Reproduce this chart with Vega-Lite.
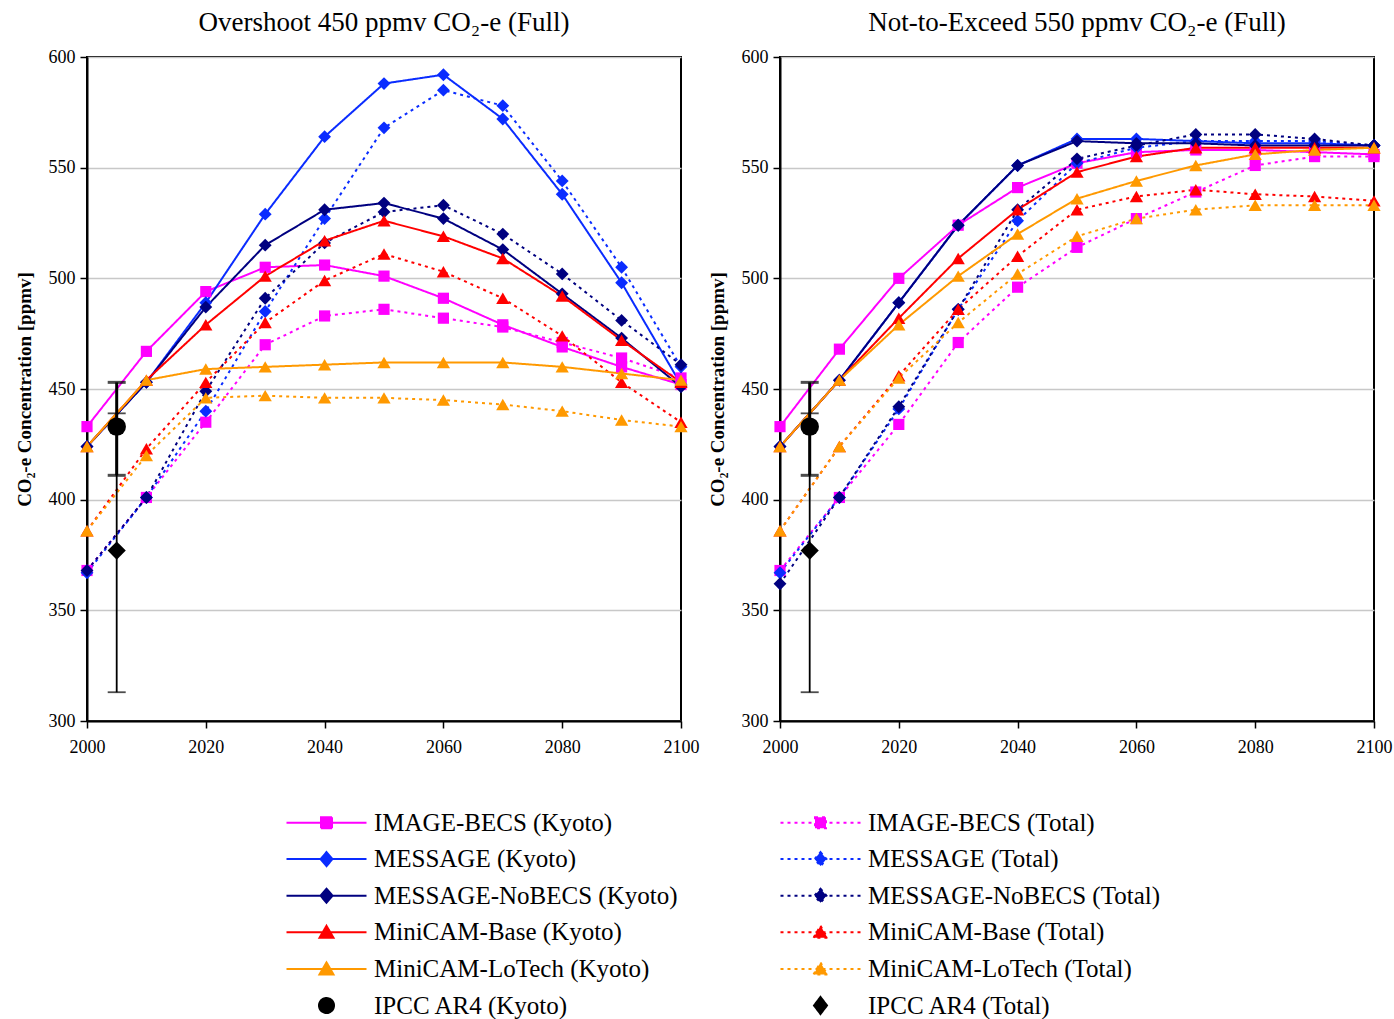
{
  "$schema": "https://vega.github.io/schema/vega-lite/v6.json",
  "background": "white",
  "padding": {"left": 14, "top": 8, "right": 0, "bottom": 0},
  "spacing": 7,
  "datasets": {
    "overshoot": [
      {"series": "IMAGE-BECS (Kyoto)", "year": 2000, "ppmv": 433}, {"series": "IMAGE-BECS (Kyoto)", "year": 2010, "ppmv": 467},
      {"series": "IMAGE-BECS (Kyoto)", "year": 2020, "ppmv": 494}, {"series": "IMAGE-BECS (Kyoto)", "year": 2030, "ppmv": 505},
      {"series": "IMAGE-BECS (Kyoto)", "year": 2040, "ppmv": 506}, {"series": "IMAGE-BECS (Kyoto)", "year": 2050, "ppmv": 501},
      {"series": "IMAGE-BECS (Kyoto)", "year": 2060, "ppmv": 491}, {"series": "IMAGE-BECS (Kyoto)", "year": 2070, "ppmv": 479},
      {"series": "IMAGE-BECS (Kyoto)", "year": 2080, "ppmv": 469}, {"series": "IMAGE-BECS (Kyoto)", "year": 2090, "ppmv": 460},
      {"series": "IMAGE-BECS (Kyoto)", "year": 2100, "ppmv": 452},
      {"series": "IMAGE-BECS (Total)", "year": 2000, "ppmv": 368}, {"series": "IMAGE-BECS (Total)", "year": 2010, "ppmv": 401},
      {"series": "IMAGE-BECS (Total)", "year": 2020, "ppmv": 435}, {"series": "IMAGE-BECS (Total)", "year": 2030, "ppmv": 470},
      {"series": "IMAGE-BECS (Total)", "year": 2040, "ppmv": 483}, {"series": "IMAGE-BECS (Total)", "year": 2050, "ppmv": 486},
      {"series": "IMAGE-BECS (Total)", "year": 2060, "ppmv": 482}, {"series": "IMAGE-BECS (Total)", "year": 2070, "ppmv": 478},
      {"series": "IMAGE-BECS (Total)", "year": 2080, "ppmv": 471}, {"series": "IMAGE-BECS (Total)", "year": 2090, "ppmv": 464},
      {"series": "IMAGE-BECS (Total)", "year": 2100, "ppmv": 455},
      {"series": "MESSAGE (Kyoto)", "year": 2000, "ppmv": 424}, {"series": "MESSAGE (Kyoto)", "year": 2010, "ppmv": 453},
      {"series": "MESSAGE (Kyoto)", "year": 2020, "ppmv": 489}, {"series": "MESSAGE (Kyoto)", "year": 2030, "ppmv": 529},
      {"series": "MESSAGE (Kyoto)", "year": 2040, "ppmv": 564}, {"series": "MESSAGE (Kyoto)", "year": 2050, "ppmv": 588},
      {"series": "MESSAGE (Kyoto)", "year": 2060, "ppmv": 592}, {"series": "MESSAGE (Kyoto)", "year": 2070, "ppmv": 572},
      {"series": "MESSAGE (Kyoto)", "year": 2080, "ppmv": 538}, {"series": "MESSAGE (Kyoto)", "year": 2090, "ppmv": 498},
      {"series": "MESSAGE (Kyoto)", "year": 2100, "ppmv": 452},
      {"series": "MESSAGE (Total)", "year": 2000, "ppmv": 367}, {"series": "MESSAGE (Total)", "year": 2010, "ppmv": 401},
      {"series": "MESSAGE (Total)", "year": 2020, "ppmv": 440}, {"series": "MESSAGE (Total)", "year": 2030, "ppmv": 485},
      {"series": "MESSAGE (Total)", "year": 2040, "ppmv": 527}, {"series": "MESSAGE (Total)", "year": 2050, "ppmv": 568},
      {"series": "MESSAGE (Total)", "year": 2060, "ppmv": 585}, {"series": "MESSAGE (Total)", "year": 2070, "ppmv": 578},
      {"series": "MESSAGE (Total)", "year": 2080, "ppmv": 544}, {"series": "MESSAGE (Total)", "year": 2090, "ppmv": 505},
      {"series": "MESSAGE (Total)", "year": 2100, "ppmv": 460},
      {"series": "MESSAGE-NoBECS (Kyoto)", "year": 2000, "ppmv": 424}, {"series": "MESSAGE-NoBECS (Kyoto)", "year": 2010, "ppmv": 453},
      {"series": "MESSAGE-NoBECS (Kyoto)", "year": 2020, "ppmv": 487}, {"series": "MESSAGE-NoBECS (Kyoto)", "year": 2030, "ppmv": 515},
      {"series": "MESSAGE-NoBECS (Kyoto)", "year": 2040, "ppmv": 531}, {"series": "MESSAGE-NoBECS (Kyoto)", "year": 2050, "ppmv": 534},
      {"series": "MESSAGE-NoBECS (Kyoto)", "year": 2060, "ppmv": 527}, {"series": "MESSAGE-NoBECS (Kyoto)", "year": 2070, "ppmv": 513},
      {"series": "MESSAGE-NoBECS (Kyoto)", "year": 2080, "ppmv": 493}, {"series": "MESSAGE-NoBECS (Kyoto)", "year": 2090, "ppmv": 473},
      {"series": "MESSAGE-NoBECS (Kyoto)", "year": 2100, "ppmv": 451},
      {"series": "MESSAGE-NoBECS (Total)", "year": 2000, "ppmv": 368}, {"series": "MESSAGE-NoBECS (Total)", "year": 2010, "ppmv": 401},
      {"series": "MESSAGE-NoBECS (Total)", "year": 2020, "ppmv": 449}, {"series": "MESSAGE-NoBECS (Total)", "year": 2030, "ppmv": 491},
      {"series": "MESSAGE-NoBECS (Total)", "year": 2040, "ppmv": 516}, {"series": "MESSAGE-NoBECS (Total)", "year": 2050, "ppmv": 530},
      {"series": "MESSAGE-NoBECS (Total)", "year": 2060, "ppmv": 533}, {"series": "MESSAGE-NoBECS (Total)", "year": 2070, "ppmv": 520},
      {"series": "MESSAGE-NoBECS (Total)", "year": 2080, "ppmv": 502}, {"series": "MESSAGE-NoBECS (Total)", "year": 2090, "ppmv": 481},
      {"series": "MESSAGE-NoBECS (Total)", "year": 2100, "ppmv": 461},
      {"series": "MiniCAM-Base (Kyoto)", "year": 2000, "ppmv": 424}, {"series": "MiniCAM-Base (Kyoto)", "year": 2010, "ppmv": 454},
      {"series": "MiniCAM-Base (Kyoto)", "year": 2020, "ppmv": 479}, {"series": "MiniCAM-Base (Kyoto)", "year": 2030, "ppmv": 501},
      {"series": "MiniCAM-Base (Kyoto)", "year": 2040, "ppmv": 517}, {"series": "MiniCAM-Base (Kyoto)", "year": 2050, "ppmv": 526},
      {"series": "MiniCAM-Base (Kyoto)", "year": 2060, "ppmv": 519}, {"series": "MiniCAM-Base (Kyoto)", "year": 2070, "ppmv": 509},
      {"series": "MiniCAM-Base (Kyoto)", "year": 2080, "ppmv": 492}, {"series": "MiniCAM-Base (Kyoto)", "year": 2090, "ppmv": 472},
      {"series": "MiniCAM-Base (Kyoto)", "year": 2100, "ppmv": 453},
      {"series": "MiniCAM-Base (Total)", "year": 2000, "ppmv": 386}, {"series": "MiniCAM-Base (Total)", "year": 2010, "ppmv": 423},
      {"series": "MiniCAM-Base (Total)", "year": 2020, "ppmv": 453}, {"series": "MiniCAM-Base (Total)", "year": 2030, "ppmv": 480},
      {"series": "MiniCAM-Base (Total)", "year": 2040, "ppmv": 499}, {"series": "MiniCAM-Base (Total)", "year": 2050, "ppmv": 511},
      {"series": "MiniCAM-Base (Total)", "year": 2060, "ppmv": 503}, {"series": "MiniCAM-Base (Total)", "year": 2070, "ppmv": 491},
      {"series": "MiniCAM-Base (Total)", "year": 2080, "ppmv": 474}, {"series": "MiniCAM-Base (Total)", "year": 2090, "ppmv": 453},
      {"series": "MiniCAM-Base (Total)", "year": 2100, "ppmv": 435},
      {"series": "MiniCAM-LoTech (Kyoto)", "year": 2000, "ppmv": 424}, {"series": "MiniCAM-LoTech (Kyoto)", "year": 2010, "ppmv": 454},
      {"series": "MiniCAM-LoTech (Kyoto)", "year": 2020, "ppmv": 459}, {"series": "MiniCAM-LoTech (Kyoto)", "year": 2030, "ppmv": 460},
      {"series": "MiniCAM-LoTech (Kyoto)", "year": 2040, "ppmv": 461}, {"series": "MiniCAM-LoTech (Kyoto)", "year": 2050, "ppmv": 462},
      {"series": "MiniCAM-LoTech (Kyoto)", "year": 2060, "ppmv": 462}, {"series": "MiniCAM-LoTech (Kyoto)", "year": 2070, "ppmv": 462},
      {"series": "MiniCAM-LoTech (Kyoto)", "year": 2080, "ppmv": 460}, {"series": "MiniCAM-LoTech (Kyoto)", "year": 2090, "ppmv": 457},
      {"series": "MiniCAM-LoTech (Kyoto)", "year": 2100, "ppmv": 454},
      {"series": "MiniCAM-LoTech (Total)", "year": 2000, "ppmv": 386}, {"series": "MiniCAM-LoTech (Total)", "year": 2010, "ppmv": 420},
      {"series": "MiniCAM-LoTech (Total)", "year": 2020, "ppmv": 446}, {"series": "MiniCAM-LoTech (Total)", "year": 2030, "ppmv": 447},
      {"series": "MiniCAM-LoTech (Total)", "year": 2040, "ppmv": 446}, {"series": "MiniCAM-LoTech (Total)", "year": 2050, "ppmv": 446},
      {"series": "MiniCAM-LoTech (Total)", "year": 2060, "ppmv": 445}, {"series": "MiniCAM-LoTech (Total)", "year": 2070, "ppmv": 443},
      {"series": "MiniCAM-LoTech (Total)", "year": 2080, "ppmv": 440}, {"series": "MiniCAM-LoTech (Total)", "year": 2090, "ppmv": 436},
      {"series": "MiniCAM-LoTech (Total)", "year": 2100, "ppmv": 433},
      {"series": "IPCC AR4 (Kyoto)", "year": 2005, "ppmv": 433, "low": 411, "high": 453},
      {"series": "IPCC AR4 (Total)", "year": 2005, "ppmv": 377, "low": 313, "high": 439}
    ],
    "nte": [
      {"series": "IMAGE-BECS (Kyoto)", "year": 2000, "ppmv": 433}, {"series": "IMAGE-BECS (Kyoto)", "year": 2010, "ppmv": 468},
      {"series": "IMAGE-BECS (Kyoto)", "year": 2020, "ppmv": 500}, {"series": "IMAGE-BECS (Kyoto)", "year": 2030, "ppmv": 524},
      {"series": "IMAGE-BECS (Kyoto)", "year": 2040, "ppmv": 541}, {"series": "IMAGE-BECS (Kyoto)", "year": 2050, "ppmv": 552},
      {"series": "IMAGE-BECS (Kyoto)", "year": 2060, "ppmv": 557}, {"series": "IMAGE-BECS (Kyoto)", "year": 2070, "ppmv": 558},
      {"series": "IMAGE-BECS (Kyoto)", "year": 2080, "ppmv": 558}, {"series": "IMAGE-BECS (Kyoto)", "year": 2090, "ppmv": 557},
      {"series": "IMAGE-BECS (Kyoto)", "year": 2100, "ppmv": 556},
      {"series": "IMAGE-BECS (Total)", "year": 2000, "ppmv": 368}, {"series": "IMAGE-BECS (Total)", "year": 2010, "ppmv": 401},
      {"series": "IMAGE-BECS (Total)", "year": 2020, "ppmv": 434}, {"series": "IMAGE-BECS (Total)", "year": 2030, "ppmv": 471},
      {"series": "IMAGE-BECS (Total)", "year": 2040, "ppmv": 496}, {"series": "IMAGE-BECS (Total)", "year": 2050, "ppmv": 514},
      {"series": "IMAGE-BECS (Total)", "year": 2060, "ppmv": 527}, {"series": "IMAGE-BECS (Total)", "year": 2070, "ppmv": 539},
      {"series": "IMAGE-BECS (Total)", "year": 2080, "ppmv": 551}, {"series": "IMAGE-BECS (Total)", "year": 2090, "ppmv": 555},
      {"series": "IMAGE-BECS (Total)", "year": 2100, "ppmv": 555},
      {"series": "MESSAGE (Kyoto)", "year": 2000, "ppmv": 424}, {"series": "MESSAGE (Kyoto)", "year": 2010, "ppmv": 454},
      {"series": "MESSAGE (Kyoto)", "year": 2020, "ppmv": 489}, {"series": "MESSAGE (Kyoto)", "year": 2030, "ppmv": 524},
      {"series": "MESSAGE (Kyoto)", "year": 2040, "ppmv": 551}, {"series": "MESSAGE (Kyoto)", "year": 2050, "ppmv": 563},
      {"series": "MESSAGE (Kyoto)", "year": 2060, "ppmv": 563}, {"series": "MESSAGE (Kyoto)", "year": 2070, "ppmv": 562},
      {"series": "MESSAGE (Kyoto)", "year": 2080, "ppmv": 561}, {"series": "MESSAGE (Kyoto)", "year": 2090, "ppmv": 561},
      {"series": "MESSAGE (Kyoto)", "year": 2100, "ppmv": 560},
      {"series": "MESSAGE (Total)", "year": 2000, "ppmv": 367}, {"series": "MESSAGE (Total)", "year": 2010, "ppmv": 401},
      {"series": "MESSAGE (Total)", "year": 2020, "ppmv": 441}, {"series": "MESSAGE (Total)", "year": 2030, "ppmv": 486},
      {"series": "MESSAGE (Total)", "year": 2040, "ppmv": 526}, {"series": "MESSAGE (Total)", "year": 2050, "ppmv": 552},
      {"series": "MESSAGE (Total)", "year": 2060, "ppmv": 559}, {"series": "MESSAGE (Total)", "year": 2070, "ppmv": 562},
      {"series": "MESSAGE (Total)", "year": 2080, "ppmv": 562}, {"series": "MESSAGE (Total)", "year": 2090, "ppmv": 562},
      {"series": "MESSAGE (Total)", "year": 2100, "ppmv": 560},
      {"series": "MESSAGE-NoBECS (Kyoto)", "year": 2000, "ppmv": 424}, {"series": "MESSAGE-NoBECS (Kyoto)", "year": 2010, "ppmv": 454},
      {"series": "MESSAGE-NoBECS (Kyoto)", "year": 2020, "ppmv": 489}, {"series": "MESSAGE-NoBECS (Kyoto)", "year": 2030, "ppmv": 524},
      {"series": "MESSAGE-NoBECS (Kyoto)", "year": 2040, "ppmv": 551}, {"series": "MESSAGE-NoBECS (Kyoto)", "year": 2050, "ppmv": 562},
      {"series": "MESSAGE-NoBECS (Kyoto)", "year": 2060, "ppmv": 561}, {"series": "MESSAGE-NoBECS (Kyoto)", "year": 2070, "ppmv": 561},
      {"series": "MESSAGE-NoBECS (Kyoto)", "year": 2080, "ppmv": 560}, {"series": "MESSAGE-NoBECS (Kyoto)", "year": 2090, "ppmv": 560},
      {"series": "MESSAGE-NoBECS (Kyoto)", "year": 2100, "ppmv": 560},
      {"series": "MESSAGE-NoBECS (Total)", "year": 2000, "ppmv": 362}, {"series": "MESSAGE-NoBECS (Total)", "year": 2010, "ppmv": 401},
      {"series": "MESSAGE-NoBECS (Total)", "year": 2020, "ppmv": 442}, {"series": "MESSAGE-NoBECS (Total)", "year": 2030, "ppmv": 486},
      {"series": "MESSAGE-NoBECS (Total)", "year": 2040, "ppmv": 531}, {"series": "MESSAGE-NoBECS (Total)", "year": 2050, "ppmv": 554},
      {"series": "MESSAGE-NoBECS (Total)", "year": 2060, "ppmv": 560}, {"series": "MESSAGE-NoBECS (Total)", "year": 2070, "ppmv": 565},
      {"series": "MESSAGE-NoBECS (Total)", "year": 2080, "ppmv": 565}, {"series": "MESSAGE-NoBECS (Total)", "year": 2090, "ppmv": 563},
      {"series": "MESSAGE-NoBECS (Total)", "year": 2100, "ppmv": 560},
      {"series": "MiniCAM-Base (Kyoto)", "year": 2000, "ppmv": 424}, {"series": "MiniCAM-Base (Kyoto)", "year": 2010, "ppmv": 454},
      {"series": "MiniCAM-Base (Kyoto)", "year": 2020, "ppmv": 482}, {"series": "MiniCAM-Base (Kyoto)", "year": 2030, "ppmv": 509},
      {"series": "MiniCAM-Base (Kyoto)", "year": 2040, "ppmv": 531}, {"series": "MiniCAM-Base (Kyoto)", "year": 2050, "ppmv": 548},
      {"series": "MiniCAM-Base (Kyoto)", "year": 2060, "ppmv": 555}, {"series": "MiniCAM-Base (Kyoto)", "year": 2070, "ppmv": 559},
      {"series": "MiniCAM-Base (Kyoto)", "year": 2080, "ppmv": 559}, {"series": "MiniCAM-Base (Kyoto)", "year": 2090, "ppmv": 559},
      {"series": "MiniCAM-Base (Kyoto)", "year": 2100, "ppmv": 559},
      {"series": "MiniCAM-Base (Total)", "year": 2000, "ppmv": 386}, {"series": "MiniCAM-Base (Total)", "year": 2010, "ppmv": 424},
      {"series": "MiniCAM-Base (Total)", "year": 2020, "ppmv": 456}, {"series": "MiniCAM-Base (Total)", "year": 2030, "ppmv": 486},
      {"series": "MiniCAM-Base (Total)", "year": 2040, "ppmv": 510}, {"series": "MiniCAM-Base (Total)", "year": 2050, "ppmv": 531},
      {"series": "MiniCAM-Base (Total)", "year": 2060, "ppmv": 537}, {"series": "MiniCAM-Base (Total)", "year": 2070, "ppmv": 540},
      {"series": "MiniCAM-Base (Total)", "year": 2080, "ppmv": 538}, {"series": "MiniCAM-Base (Total)", "year": 2090, "ppmv": 537},
      {"series": "MiniCAM-Base (Total)", "year": 2100, "ppmv": 535},
      {"series": "MiniCAM-LoTech (Kyoto)", "year": 2000, "ppmv": 424}, {"series": "MiniCAM-LoTech (Kyoto)", "year": 2010, "ppmv": 454},
      {"series": "MiniCAM-LoTech (Kyoto)", "year": 2020, "ppmv": 479}, {"series": "MiniCAM-LoTech (Kyoto)", "year": 2030, "ppmv": 501},
      {"series": "MiniCAM-LoTech (Kyoto)", "year": 2040, "ppmv": 520}, {"series": "MiniCAM-LoTech (Kyoto)", "year": 2050, "ppmv": 536},
      {"series": "MiniCAM-LoTech (Kyoto)", "year": 2060, "ppmv": 544}, {"series": "MiniCAM-LoTech (Kyoto)", "year": 2070, "ppmv": 551},
      {"series": "MiniCAM-LoTech (Kyoto)", "year": 2080, "ppmv": 556}, {"series": "MiniCAM-LoTech (Kyoto)", "year": 2090, "ppmv": 558},
      {"series": "MiniCAM-LoTech (Kyoto)", "year": 2100, "ppmv": 559},
      {"series": "MiniCAM-LoTech (Total)", "year": 2000, "ppmv": 386}, {"series": "MiniCAM-LoTech (Total)", "year": 2010, "ppmv": 424},
      {"series": "MiniCAM-LoTech (Total)", "year": 2020, "ppmv": 455}, {"series": "MiniCAM-LoTech (Total)", "year": 2030, "ppmv": 480},
      {"series": "MiniCAM-LoTech (Total)", "year": 2040, "ppmv": 502}, {"series": "MiniCAM-LoTech (Total)", "year": 2050, "ppmv": 519},
      {"series": "MiniCAM-LoTech (Total)", "year": 2060, "ppmv": 527}, {"series": "MiniCAM-LoTech (Total)", "year": 2070, "ppmv": 531},
      {"series": "MiniCAM-LoTech (Total)", "year": 2080, "ppmv": 533}, {"series": "MiniCAM-LoTech (Total)", "year": 2090, "ppmv": 533},
      {"series": "MiniCAM-LoTech (Total)", "year": 2100, "ppmv": 533},
      {"series": "IPCC AR4 (Kyoto)", "year": 2005, "ppmv": 433, "low": 411, "high": 453},
      {"series": "IPCC AR4 (Total)", "year": 2005, "ppmv": 377, "low": 313, "high": 439}
    ]
  },
  "resolve": {
    "scale": {"fill": "shared", "stroke": "shared", "shape": "shared", "strokeDash": "shared"},
    "legend": {"fill": "shared", "stroke": "shared", "shape": "shared", "strokeDash": "shared"}
  },
  "hconcat": [
    {
      "width": 594,
      "height": 664,
      "title": {"text": "Overshoot 450 ppmv CO₂-e (Full)"},
      "data": {"name": "overshoot"},
      "encoding": {
        "x": {"field": "year", "type": "quantitative", "scale": {"domain": [2000, 2100], "nice": false, "zero": false},
              "axis": {"values": [2000, 2020, 2040, 2060, 2080, 2100], "title": null, "format": "d"}},
        "y": {"field": "ppmv", "type": "quantitative", "scale": {"domain": [300, 600], "nice": false, "zero": false},
              "axis": {"values": [300, 350, 400, 450, 500, 550, 600], "title": "CO₂-e Concentration [ppmv]"}}
      },
      "layer": [
        {
          "transform": [{"filter": "false"}],
          "mark": {"type": "point", "filled": true, "opacity": 1},
          "encoding": {
            "fill": {"field": "series", "type": "nominal", "legend": {"title": null, "orient": "none", "legendX": 227, "legendY": 753},
                     "scale": {"domain": ["IMAGE-BECS (Kyoto)", "MESSAGE (Kyoto)", "MESSAGE-NoBECS (Kyoto)", "MiniCAM-Base (Kyoto)", "MiniCAM-LoTech (Kyoto)", "IPCC AR4 (Kyoto)", "IMAGE-BECS (Total)", "MESSAGE (Total)", "MESSAGE-NoBECS (Total)", "MiniCAM-Base (Total)", "MiniCAM-LoTech (Total)", "IPCC AR4 (Total)"],
                               "range": ["#ff00ff", "#0a2cff", "#000080", "#ff0000", "#ff9900", "#000000", "#ff00ff", "#0a2cff", "#000080", "#ff0000", "#ff9900", "#000000"]}},
            "stroke": {"field": "series", "type": "nominal", "legend": {"title": null, "orient": "none", "legendX": 227, "legendY": 753},
                     "scale": {"domain": ["IMAGE-BECS (Kyoto)", "MESSAGE (Kyoto)", "MESSAGE-NoBECS (Kyoto)", "MiniCAM-Base (Kyoto)", "MiniCAM-LoTech (Kyoto)", "IPCC AR4 (Kyoto)", "IMAGE-BECS (Total)", "MESSAGE (Total)", "MESSAGE-NoBECS (Total)", "MiniCAM-Base (Total)", "MiniCAM-LoTech (Total)", "IPCC AR4 (Total)"],
                               "range": ["#ff00ff", "#0a2cff", "#000080", "#ff0000", "#ff9900", "#000000", "#ff00ff", "#0a2cff", "#000080", "#ff0000", "#ff9900", "#000000"]}},
            "shape": {"field": "series", "type": "nominal", "legend": {"title": null, "orient": "none", "legendX": 227, "legendY": 753},
                     "scale": {"domain": ["IMAGE-BECS (Kyoto)", "MESSAGE (Kyoto)", "MESSAGE-NoBECS (Kyoto)", "MiniCAM-Base (Kyoto)", "MiniCAM-LoTech (Kyoto)", "IPCC AR4 (Kyoto)", "IMAGE-BECS (Total)", "MESSAGE (Total)", "MESSAGE-NoBECS (Total)", "MiniCAM-Base (Total)", "MiniCAM-LoTech (Total)", "IPCC AR4 (Total)"],
                               "range": ["M-4,0H4M-0.55,-0.55H0.55V0.55H-0.55Z", "M-4,0H4M0,-0.7L0.6,0L0,0.7L-0.6,0Z",
                                         "M-4,0H4M0,-0.7L0.6,0L0,0.7L-0.6,0Z", "M-4,0H4M0,-0.65L0.7,0.55H-0.7Z",
                                         "M-4,0H4M0,-0.65L0.7,0.55H-0.7Z", "M-0.75,0A0.75,0.75,0,1,1,0.75,0A0.75,0.75,0,1,1,-0.75,0Z",
                                         "M-4,0H4M-0.55,-0.55H0.55V0.55H-0.55Z", "M-4,0H4M0,-0.7L0.6,0L0,0.7L-0.6,0Z",
                                         "M-4,0H4M0,-0.7L0.6,0L0,0.7L-0.6,0Z", "M-4,0H4M0,-0.65L0.7,0.55H-0.7Z",
                                         "M-4,0H4M0,-0.65L0.7,0.55H-0.7Z", "M0,-0.85L0.65,0L0,0.85L-0.65,0Z"]}},
            "strokeDash": {"field": "series", "type": "nominal", "legend": {"title": null, "orient": "none", "legendX": 227, "legendY": 753},
                     "scale": {"domain": ["IMAGE-BECS (Kyoto)", "MESSAGE (Kyoto)", "MESSAGE-NoBECS (Kyoto)", "MiniCAM-Base (Kyoto)", "MiniCAM-LoTech (Kyoto)", "IPCC AR4 (Kyoto)", "IMAGE-BECS (Total)", "MESSAGE (Total)", "MESSAGE-NoBECS (Total)", "MiniCAM-Base (Total)", "MiniCAM-LoTech (Total)", "IPCC AR4 (Total)"],
                               "range": [[1, 0], [1, 0], [1, 0], [1, 0], [1, 0], [1, 0], [3, 4], [3, 4], [3, 4], [3, 4], [3, 4], [1, 0]]}}
          }
        },
        {
          "transform": [{"filter": "indexof(datum.series, 'IPCC') < 0"}],
          "mark": {"type": "line", "strokeWidth": 2},
          "encoding": {
            "stroke": {"field": "series", "type": "nominal", "legend": {"title": null, "orient": "none", "legendX": 227, "legendY": 753},
                     "scale": {"domain": ["IMAGE-BECS (Kyoto)", "MESSAGE (Kyoto)", "MESSAGE-NoBECS (Kyoto)", "MiniCAM-Base (Kyoto)", "MiniCAM-LoTech (Kyoto)", "IPCC AR4 (Kyoto)", "IMAGE-BECS (Total)", "MESSAGE (Total)", "MESSAGE-NoBECS (Total)", "MiniCAM-Base (Total)", "MiniCAM-LoTech (Total)", "IPCC AR4 (Total)"],
                               "range": ["#ff00ff", "#0a2cff", "#000080", "#ff0000", "#ff9900", "#000000", "#ff00ff", "#0a2cff", "#000080", "#ff0000", "#ff9900", "#000000"]}},
            "strokeDash": {"field": "series", "type": "nominal", "legend": {"title": null, "orient": "none", "legendX": 227, "legendY": 753},
                     "scale": {"domain": ["IMAGE-BECS (Kyoto)", "MESSAGE (Kyoto)", "MESSAGE-NoBECS (Kyoto)", "MiniCAM-Base (Kyoto)", "MiniCAM-LoTech (Kyoto)", "IPCC AR4 (Kyoto)", "IMAGE-BECS (Total)", "MESSAGE (Total)", "MESSAGE-NoBECS (Total)", "MiniCAM-Base (Total)", "MiniCAM-LoTech (Total)", "IPCC AR4 (Total)"],
                               "range": [[1, 0], [1, 0], [1, 0], [1, 0], [1, 0], [1, 0], [3, 4], [3, 4], [3, 4], [3, 4], [3, 4], [1, 0]]}}
          }
        },
        {
          "transform": [{"filter": "indexof(datum.series, 'IMAGE') == 0"}],
          "mark": {"type": "point", "shape": "square", "size": 125, "filled": true, "opacity": 1},
          "encoding": {"fill": {"field": "series", "type": "nominal", "legend": {"title": null, "orient": "none", "legendX": 227, "legendY": 753},
                     "scale": {"domain": ["IMAGE-BECS (Kyoto)", "MESSAGE (Kyoto)", "MESSAGE-NoBECS (Kyoto)", "MiniCAM-Base (Kyoto)", "MiniCAM-LoTech (Kyoto)", "IPCC AR4 (Kyoto)", "IMAGE-BECS (Total)", "MESSAGE (Total)", "MESSAGE-NoBECS (Total)", "MiniCAM-Base (Total)", "MiniCAM-LoTech (Total)", "IPCC AR4 (Total)"],
                               "range": ["#ff00ff", "#0a2cff", "#000080", "#ff0000", "#ff9900", "#000000", "#ff00ff", "#0a2cff", "#000080", "#ff0000", "#ff9900", "#000000"]}}}
        },
        {
          "transform": [{"filter": "indexof(datum.series, 'MESSAGE') == 0"}],
          "mark": {"type": "point", "shape": "diamond", "size": 165, "filled": true, "opacity": 1},
          "encoding": {"fill": {"field": "series", "type": "nominal", "legend": {"title": null, "orient": "none", "legendX": 227, "legendY": 753},
                     "scale": {"domain": ["IMAGE-BECS (Kyoto)", "MESSAGE (Kyoto)", "MESSAGE-NoBECS (Kyoto)", "MiniCAM-Base (Kyoto)", "MiniCAM-LoTech (Kyoto)", "IPCC AR4 (Kyoto)", "IMAGE-BECS (Total)", "MESSAGE (Total)", "MESSAGE-NoBECS (Total)", "MiniCAM-Base (Total)", "MiniCAM-LoTech (Total)", "IPCC AR4 (Total)"],
                               "range": ["#ff00ff", "#0a2cff", "#000080", "#ff0000", "#ff9900", "#000000", "#ff00ff", "#0a2cff", "#000080", "#ff0000", "#ff9900", "#000000"]}}}
        },
        {
          "transform": [{"filter": "indexof(datum.series, 'MiniCAM') == 0"}],
          "mark": {"type": "point", "shape": "triangle-up", "size": 175, "filled": true, "opacity": 1},
          "encoding": {"fill": {"field": "series", "type": "nominal", "legend": {"title": null, "orient": "none", "legendX": 227, "legendY": 753},
                     "scale": {"domain": ["IMAGE-BECS (Kyoto)", "MESSAGE (Kyoto)", "MESSAGE-NoBECS (Kyoto)", "MiniCAM-Base (Kyoto)", "MiniCAM-LoTech (Kyoto)", "IPCC AR4 (Kyoto)", "IMAGE-BECS (Total)", "MESSAGE (Total)", "MESSAGE-NoBECS (Total)", "MiniCAM-Base (Total)", "MiniCAM-LoTech (Total)", "IPCC AR4 (Total)"],
                               "range": ["#ff00ff", "#0a2cff", "#000080", "#ff0000", "#ff9900", "#000000", "#ff00ff", "#0a2cff", "#000080", "#ff0000", "#ff9900", "#000000"]}}}
        },
        {
          "transform": [{"filter": "datum.series == 'IPCC AR4 (Total)'"}],
          "mark": {"type": "errorbar", "color": "black", "thickness": 1.8, "ticks": {"size": 18}},
          "encoding": {
            "y": {"field": "low", "type": "quantitative", "title": "CO₂-e Concentration [ppmv]", "scale": {"domain": [300, 600], "nice": false, "zero": false}},
            "y2": {"field": "high"}
          }
        },
        {
          "transform": [{"filter": "datum.series == 'IPCC AR4 (Kyoto)'"}],
          "mark": {"type": "errorbar", "color": "black", "thickness": 3, "ticks": {"size": 18}},
          "encoding": {
            "y": {"field": "low", "type": "quantitative", "title": "CO₂-e Concentration [ppmv]", "scale": {"domain": [300, 600], "nice": false, "zero": false}},
            "y2": {"field": "high"}
          }
        },
        {
          "transform": [{"filter": "datum.series == 'IPCC AR4 (Kyoto)'"}],
          "mark": {"type": "point", "shape": "circle", "size": 340, "filled": true, "opacity": 1, "color": "black"}
        },
        {
          "transform": [{"filter": "datum.series == 'IPCC AR4 (Total)'"}],
          "mark": {"type": "point", "shape": "diamond", "size": 330, "filled": true, "opacity": 1, "color": "black"}
        }
      ]
    },
    {
      "width": 594,
      "height": 664,
      "title": {"text": "Not-to-Exceed 550 ppmv CO₂-e (Full)"},
      "data": {"name": "nte"},
      "encoding": {
        "x": {"field": "year", "type": "quantitative", "scale": {"domain": [2000, 2100], "nice": false, "zero": false},
              "axis": {"values": [2000, 2020, 2040, 2060, 2080, 2100], "title": null, "format": "d"}},
        "y": {"field": "ppmv", "type": "quantitative", "scale": {"domain": [300, 600], "nice": false, "zero": false},
              "axis": {"values": [300, 350, 400, 450, 500, 550, 600], "title": "CO₂-e Concentration [ppmv]"}}
      },
      "layer": [
        {
          "transform": [{"filter": "indexof(datum.series, 'IPCC') < 0"}],
          "mark": {"type": "line", "strokeWidth": 2},
          "encoding": {
            "stroke": {"field": "series", "type": "nominal", "legend": {"title": null, "orient": "none", "legendX": 227, "legendY": 753},
                     "scale": {"domain": ["IMAGE-BECS (Kyoto)", "MESSAGE (Kyoto)", "MESSAGE-NoBECS (Kyoto)", "MiniCAM-Base (Kyoto)", "MiniCAM-LoTech (Kyoto)", "IPCC AR4 (Kyoto)", "IMAGE-BECS (Total)", "MESSAGE (Total)", "MESSAGE-NoBECS (Total)", "MiniCAM-Base (Total)", "MiniCAM-LoTech (Total)", "IPCC AR4 (Total)"],
                               "range": ["#ff00ff", "#0a2cff", "#000080", "#ff0000", "#ff9900", "#000000", "#ff00ff", "#0a2cff", "#000080", "#ff0000", "#ff9900", "#000000"]}},
            "strokeDash": {"field": "series", "type": "nominal", "legend": {"title": null, "orient": "none", "legendX": 227, "legendY": 753},
                     "scale": {"domain": ["IMAGE-BECS (Kyoto)", "MESSAGE (Kyoto)", "MESSAGE-NoBECS (Kyoto)", "MiniCAM-Base (Kyoto)", "MiniCAM-LoTech (Kyoto)", "IPCC AR4 (Kyoto)", "IMAGE-BECS (Total)", "MESSAGE (Total)", "MESSAGE-NoBECS (Total)", "MiniCAM-Base (Total)", "MiniCAM-LoTech (Total)", "IPCC AR4 (Total)"],
                               "range": [[1, 0], [1, 0], [1, 0], [1, 0], [1, 0], [1, 0], [3, 4], [3, 4], [3, 4], [3, 4], [3, 4], [1, 0]]}}
          }
        },
        {
          "transform": [{"filter": "indexof(datum.series, 'IMAGE') == 0"}],
          "mark": {"type": "point", "shape": "square", "size": 125, "filled": true, "opacity": 1},
          "encoding": {"fill": {"field": "series", "type": "nominal", "legend": {"title": null, "orient": "none", "legendX": 227, "legendY": 753},
                     "scale": {"domain": ["IMAGE-BECS (Kyoto)", "MESSAGE (Kyoto)", "MESSAGE-NoBECS (Kyoto)", "MiniCAM-Base (Kyoto)", "MiniCAM-LoTech (Kyoto)", "IPCC AR4 (Kyoto)", "IMAGE-BECS (Total)", "MESSAGE (Total)", "MESSAGE-NoBECS (Total)", "MiniCAM-Base (Total)", "MiniCAM-LoTech (Total)", "IPCC AR4 (Total)"],
                               "range": ["#ff00ff", "#0a2cff", "#000080", "#ff0000", "#ff9900", "#000000", "#ff00ff", "#0a2cff", "#000080", "#ff0000", "#ff9900", "#000000"]}}}
        },
        {
          "transform": [{"filter": "indexof(datum.series, 'MESSAGE') == 0"}],
          "mark": {"type": "point", "shape": "diamond", "size": 165, "filled": true, "opacity": 1},
          "encoding": {"fill": {"field": "series", "type": "nominal", "legend": {"title": null, "orient": "none", "legendX": 227, "legendY": 753},
                     "scale": {"domain": ["IMAGE-BECS (Kyoto)", "MESSAGE (Kyoto)", "MESSAGE-NoBECS (Kyoto)", "MiniCAM-Base (Kyoto)", "MiniCAM-LoTech (Kyoto)", "IPCC AR4 (Kyoto)", "IMAGE-BECS (Total)", "MESSAGE (Total)", "MESSAGE-NoBECS (Total)", "MiniCAM-Base (Total)", "MiniCAM-LoTech (Total)", "IPCC AR4 (Total)"],
                               "range": ["#ff00ff", "#0a2cff", "#000080", "#ff0000", "#ff9900", "#000000", "#ff00ff", "#0a2cff", "#000080", "#ff0000", "#ff9900", "#000000"]}}}
        },
        {
          "transform": [{"filter": "indexof(datum.series, 'MiniCAM') == 0"}],
          "mark": {"type": "point", "shape": "triangle-up", "size": 175, "filled": true, "opacity": 1},
          "encoding": {"fill": {"field": "series", "type": "nominal", "legend": {"title": null, "orient": "none", "legendX": 227, "legendY": 753},
                     "scale": {"domain": ["IMAGE-BECS (Kyoto)", "MESSAGE (Kyoto)", "MESSAGE-NoBECS (Kyoto)", "MiniCAM-Base (Kyoto)", "MiniCAM-LoTech (Kyoto)", "IPCC AR4 (Kyoto)", "IMAGE-BECS (Total)", "MESSAGE (Total)", "MESSAGE-NoBECS (Total)", "MiniCAM-Base (Total)", "MiniCAM-LoTech (Total)", "IPCC AR4 (Total)"],
                               "range": ["#ff00ff", "#0a2cff", "#000080", "#ff0000", "#ff9900", "#000000", "#ff00ff", "#0a2cff", "#000080", "#ff0000", "#ff9900", "#000000"]}}}
        },
        {
          "transform": [{"filter": "datum.series == 'IPCC AR4 (Total)'"}],
          "mark": {"type": "errorbar", "color": "black", "thickness": 1.8, "ticks": {"size": 18}},
          "encoding": {
            "y": {"field": "low", "type": "quantitative", "title": "CO₂-e Concentration [ppmv]", "scale": {"domain": [300, 600], "nice": false, "zero": false}},
            "y2": {"field": "high"}
          }
        },
        {
          "transform": [{"filter": "datum.series == 'IPCC AR4 (Kyoto)'"}],
          "mark": {"type": "errorbar", "color": "black", "thickness": 3, "ticks": {"size": 18}},
          "encoding": {
            "y": {"field": "low", "type": "quantitative", "title": "CO₂-e Concentration [ppmv]", "scale": {"domain": [300, 600], "nice": false, "zero": false}},
            "y2": {"field": "high"}
          }
        },
        {
          "transform": [{"filter": "datum.series == 'IPCC AR4 (Kyoto)'"}],
          "mark": {"type": "point", "shape": "circle", "size": 340, "filled": true, "opacity": 1, "color": "black"}
        },
        {
          "transform": [{"filter": "datum.series == 'IPCC AR4 (Total)'"}],
          "mark": {"type": "point", "shape": "diamond", "size": 330, "filled": true, "opacity": 1, "color": "black"}
        }
      ]
    }
  ],
  "config": {
    "font": "Liberation Serif",
    "view": {"stroke": "black", "strokeWidth": 2},
    "title": {"font": "Liberation Serif", "fontSize": 27, "fontWeight": "normal", "color": "black", "offset": 11},
    "axis": {
      "labelFont": "Liberation Serif", "labelFontSize": 18, "labelColor": "black", "labelFlush": false,
      "titleFont": "Liberation Serif", "titleFontSize": 19, "titleFontWeight": "bold", "titleColor": "black",
      "domainColor": "black", "domainWidth": 2, "tickColor": "black", "tickWidth": 1.5, "tickSize": 7,
      "gridColor": "#c8c8c8", "gridWidth": 1.5
    },
    "axisX": {"grid": false, "labelPadding": 10},
    "axisY": {"labelPadding": 5, "titlePadding": 14},
    "legend": {
      "labelFont": "Liberation Serif", "labelFontSize": 25, "labelColor": "black", "labelLimit": 0,
      "symbolSize": 400, "symbolStrokeWidth": 2, "columns": 2, "rowPadding": 10.6, "columnPadding": 98, "labelOffset": 35
    }
  }
}
